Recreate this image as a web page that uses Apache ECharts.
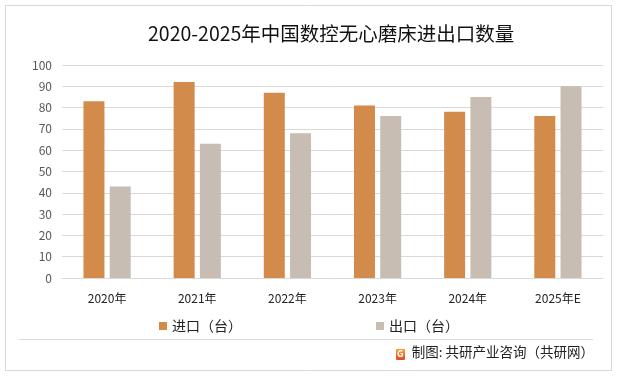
<!DOCTYPE html>
<html lang="zh">

<head>
    <meta charset="utf-8">
    <style type="text/css">
    body {
        margin: 0;
        background-color: #fff
    }

    #echarts {
        width: 618px;
        height: 376px;
    }
    </style>
</head>

<body>
    <div id="echarts"></div>
    <script type="text/javascript" src="https://cdn.jsdelivr.net/npm/echarts@6/dist/echarts.min.js"></script>
    <script type="text/javascript">
    var years = ['2020年', '2021年', '2022年', '2023年', '2024年', '2025年E'];
    var importData = [83, 92, 87, 81, 78, 76];
    var exportData = [43, 63, 68, 76, 85, 90];

    var font = '"Noto Sans CJK SC", "Microsoft YaHei", sans-serif';
    var myEcharts = echarts.init(document.getElementById('echarts'));

    var option = {
        animation: false,
        title: {
            text: '2020-2025年中国数控无心磨床进出口数量',
            left: 143,
            top: 19,
            textStyle: {
                fontFamily: font,
                fontSize: 19.5,
                fontWeight: 'normal',
                color: '#111'
            }
        },
        legend: {
            data: ['进口（台）', '出口（台）'],
            top: 314,
            left: 'center',
            itemGap: 134,
            itemWidth: 8,
            itemHeight: 8,
            icon: 'rect',
            textStyle: {
                fontFamily: font,
                fontSize: 14,
                color: '#222'
            }
        },
        grid: {
            left: 62,
            right: 15,
            top: 65,
            bottom: 98
        },
        xAxis: {
            type: 'category',
            data: years,
            axisTick: { show: false },
            axisLine: { lineStyle: { color: '#d9d9d9', width: 1 } },
            axisLabel: {
                fontFamily: font,
                fontSize: 12,
                color: '#222',
                margin: 14
            }
        },
        yAxis: {
            type: 'value',
            min: 0,
            max: 100,
            interval: 10,
            axisLine: { show: false },
            axisTick: { show: false },
            axisLabel: {
                fontFamily: font,
                fontSize: 12,
                color: '#595959',
                margin: 10
            },
            splitLine: { lineStyle: { color: '#d9d9d9', width: 1 } }
        },
        series: [{
            name: '进口（台）',
            type: 'bar',
            data: importData,
            barWidth: 21,
            barGap: '25%',
            itemStyle: { color: '#d38b4c' }
        }, {
            name: '出口（台）',
            type: 'bar',
            data: exportData,
            barWidth: 21,
            itemStyle: { color: '#c7bdb2' }
        }],
        graphic: [{
            type: 'rect',
            shape: { x: 5.5, y: 5.5, width: 606, height: 365 },
            style: { fill: 'none', stroke: '#d9d9d9', lineWidth: 1 },
            silent: true
        }, {
            type: 'line',
            shape: { x1: 19, y1: 339.5, x2: 593, y2: 339.5 },
            style: { stroke: '#d9d9d9', lineWidth: 1 },
            silent: true
        }, {
            type: 'rect',
            shape: { x: 396, y: 349, width: 9, height: 11, r: 1 },
            style: {
                fill: new echarts.graphic.LinearGradient(0, 0, 0, 1, [
                    { offset: 0, color: '#f7a12c' },
                    { offset: 1, color: '#e8452a' }
                ])
            },
            silent: true
        }, {
            type: 'text',
            left: 397,
            top: 349,
            style: {
                text: 'G',
                fill: '#fff',
                font: 'bold 9px ' + font
            },
            silent: true
        }, {
            type: 'text',
            right: 24,
            top: 345,
            style: {
                text: '制图: 共研产业咨询（共研网）',
                fill: '#222',
                font: '13.5px ' + font
            },
            silent: true
        }]
    };
    myEcharts.setOption(option);
    </script>
</body>

</html>
